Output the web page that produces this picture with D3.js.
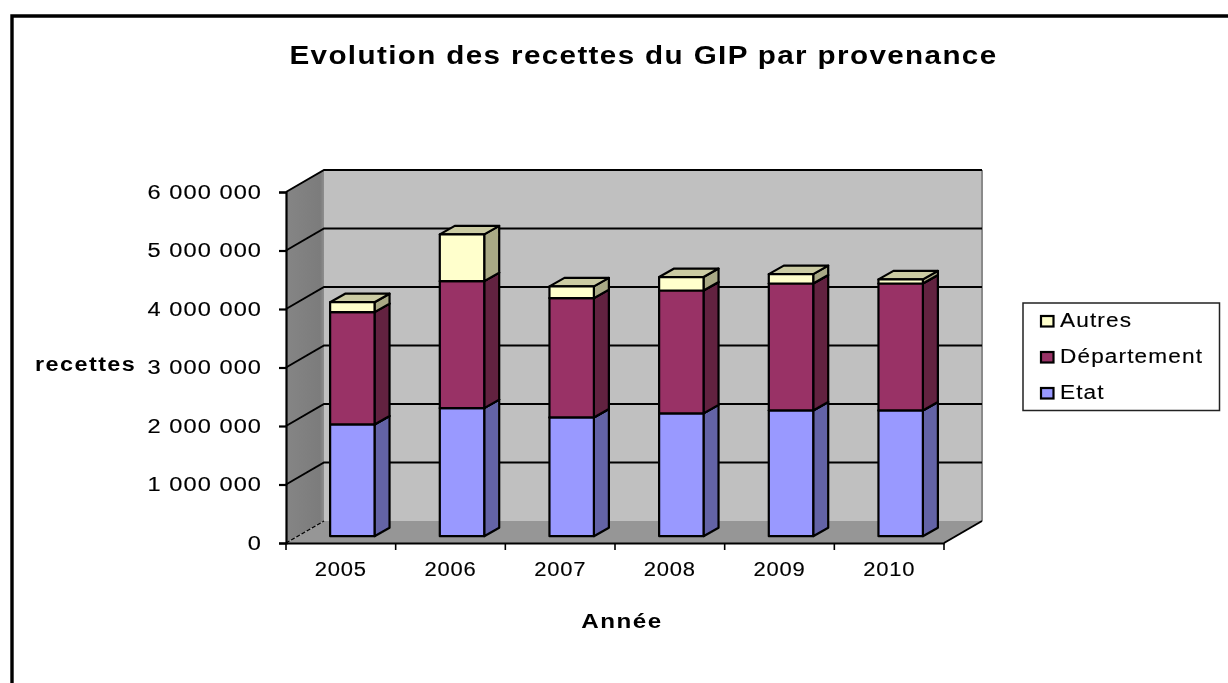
<!DOCTYPE html>
<html><head><meta charset="utf-8">
<script src="https://cdn.jsdelivr.net/npm/d3@7"></script>
<style>html,body{margin:0;padding:0;background:#fff}svg{display:block}text{font-family:"Liberation Sans",Arial,sans-serif;fill:#000}</style>
</head><body><div id="c"></div>
<script>
const years=["2005","2006","2007","2008","2009","2010"];
const etat=[1910000,2190000,2030000,2100000,2150000,2150000];
const departement=[1920000,2170000,2040000,2100000,2170000,2170000];
const autres=[170000,800000,200000,230000,160000,70000];
const seriesNames=["Etat","Département","Autres"];
const tickValues=[0,1000000,2000000,3000000,4000000,5000000,6000000];
const faceColors=["#9999ff","#993366","#ffffcc"];
const sideColors=["#6464a6","#62203f","#a9a985"];
const topColors=["#7c7cd0","#7d2a52","#cbcba3"];
const W=1228,H=683;
const svg=d3.select("#c").append("svg").attr("width",W).attr("height",H);
const defs=svg.append("defs");
defs.append("filter").attr("id","soft").attr("filterUnits","userSpaceOnUse").attr("x",0).attr("y",0).attr("width",W).attr("height",H)
  .append("feGaussianBlur").attr("stdDeviation",0.45);
const wallGrad=defs.append("linearGradient").attr("id","wall");
wallGrad.append("stop").attr("offset","0%").attr("stop-color","#858585");
wallGrad.append("stop").attr("offset","90%").attr("stop-color","#7c7c7c");
wallGrad.append("stop").attr("offset","100%").attr("stop-color","#8e8e8e");
const g=svg.append("g").attr("filter","url(#soft)");
const fmt=v=>d3.format(",")(v).replace(/,/g," ");
// stretch text horizontally, as the reference image is
const stretch=(sel,k,ls)=>sel.attr("letter-spacing",ls).each(function(){
  const n=this.getComputedTextLength();
  d3.select(this).attr("textLength",n*k).attr("lengthAdjust","spacingAndGlyphs");
});
const x0=286,x1=944,yBase=543,yTop=192,DX=38,DY=-22;
const x=d3.scaleBand().domain(years).range([x0,x1]).padding(0);
const y=d3.scaleLinear().domain([0,6000000]).range([yBase,yTop]);
const p=a=>a.map(q=>q.join(",")).join(" ");
// frame
g.append("path").attr("d",`M12,${H} V16 H${W}`).attr("fill","none").attr("stroke","#000").attr("stroke-width",3.4);
// back wall, side wall, floor
g.append("rect").attr("x",x0+DX).attr("y",y(6000000)+DY).attr("width",x1-x0).attr("height",yBase-yTop).attr("fill","#c0c0c0");
g.append("polygon").attr("points",p([[x0,yBase],[x0+DX,yBase+DY],[x0+DX,yTop+DY],[x0,yTop]])).attr("fill","url(#wall)");
g.append("polygon").attr("points",p([[x0,yBase],[x1,yBase],[x1+DX,yBase+DY],[x0+DX,yBase+DY]])).attr("fill","#969696");
g.append("line").attr("x1",x1+DX).attr("x2",x1+DX).attr("y1",yTop+DY).attr("y2",yBase+DY).attr("stroke","#8a8a8a").attr("stroke-width",2);
// gridlines
const grid=g.append("g").attr("fill","none").attr("stroke","#000").attr("stroke-width",2);
tickValues.forEach(v=>{
  const yy=y(v);
  const pts=v===0?[[x0,yy],[x0+DX,yy+DY]]:[[x0,yy],[x0+DX,yy+DY],[x1+DX,yy+DY]];
  const l=grid.append("polyline").attr("points",p(pts));
  if(v===0)l.attr("stroke-dasharray","4 2").attr("stroke-width",1.3);
});
g.append("line").attr("x1",x1).attr("y1",yBase).attr("x2",x1+DX).attr("y2",yBase+DY).attr("stroke","#000").attr("stroke-width",2);
// bars
const table=years.map((yr,i)=>({year:yr,Etat:etat[i],"Département":departement[i],Autres:autres[i]}));
const stacked=d3.stack().keys(seriesNames)(table);
const bw=x.bandwidth()*0.405,bdx=15,bdy=-8.5,odx=11.5,ody=6.8;
const barG=g.append("g").attr("stroke","#000").attr("stroke-width",2.2).attr("stroke-linejoin","round");
stacked.forEach((s,si)=>{
  s.forEach(d=>{
    const cx=x(d.data.year)+x.bandwidth()/2+odx;
    const l=cx-bw/2,r=cx+bw/2;
    const yb=y(d[0])-ody,yt=y(d[1])-ody;
    barG.append("polygon").attr("points",p([[r,yb],[r+bdx,yb+bdy],[r+bdx,yt+bdy],[r,yt]])).attr("fill",sideColors[si]);
    barG.append("polygon").attr("points",p([[l,yt],[r,yt],[r+bdx,yt+bdy],[l+bdx,yt+bdy]])).attr("fill",topColors[si]);
    barG.append("rect").attr("x",l).attr("y",yt).attr("width",r-l).attr("height",yb-yt).attr("fill",faceColors[si]);
  });
});
// axes
const yAxis=d3.axisLeft(y).tickValues(tickValues).tickFormat(fmt).tickSize(7).tickPadding(17);
const ya=g.append("g").attr("transform",`translate(${x0},0)`).call(yAxis);
const xAxis=d3.axisBottom(x).tickSize(0).tickPadding(19);
const xa=g.append("g").attr("transform",`translate(0,${yBase})`).call(xAxis);
[ya,xa].forEach(a=>{a.selectAll("path,line").attr("stroke","#000").attr("stroke-width",2.2);
  a.selectAll("text").attr("font-size",20).attr("font-family",'"Liberation Sans",Arial,sans-serif').attr("fill","#000").attr("stroke","#000").attr("stroke-width",0.15);});
ya.selectAll("text").call(stretch,1.18,0.9).attr("dy","0.3em");
xa.selectAll("text").call(stretch,1.1,0.7);
d3.range(7).forEach(i=>{
  const xx=x0+i*x.step();
  xa.append("line").attr("x1",xx).attr("x2",xx).attr("y1",0).attr("y2",7).attr("stroke","#000").attr("stroke-width",1.6);
});
// titles
g.append("text").attr("x",643.5).attr("y",64).attr("text-anchor","middle").attr("font-size",25).attr("font-weight","bold").text("Evolution des recettes du GIP par provenance").call(stretch,1.185,1.15);
g.append("text").attr("x",622).attr("y",628).attr("text-anchor","middle").attr("font-size",19.5).attr("font-weight","bold").text("Année").call(stretch,1.24,1.2);
g.append("text").attr("x",35).attr("y",371).attr("font-size",19.5).attr("font-weight","bold").text("recettes").call(stretch,1.2,1.2);
// legend
const lg=g.append("g");
lg.append("rect").attr("x",1023).attr("y",303).attr("width",196.5).attr("height",107.5).attr("fill","#fff").attr("stroke","#222").attr("stroke-width",1.5);
const order=[2,1,0],legendTops=[316,352,388];
order.forEach((si,i)=>{
  lg.append("rect").attr("x",1041).attr("y",legendTops[i]).attr("width",12.5).attr("height",10.5).attr("fill",faceColors[si]).attr("stroke","#000").attr("stroke-width",2.2);
  lg.append("text").attr("x",1060).attr("y",legendTops[i]+11).attr("font-size",20).attr("stroke","#000").attr("stroke-width",0.15).text(seriesNames[si]).call(stretch,1.13,1);
});
</script></body></html>
